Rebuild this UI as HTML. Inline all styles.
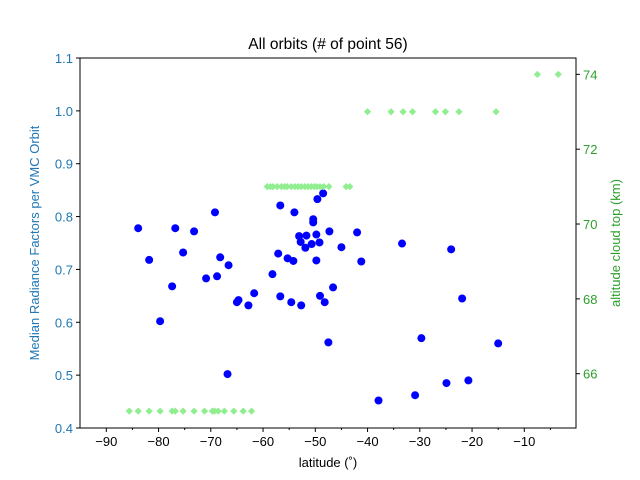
<!DOCTYPE html>
<html><head><meta charset="utf-8"><style>
body{margin:0;background:#fff;}
svg{display:block;font-family:"Liberation Sans","DejaVu Sans",sans-serif;}
</style></head><body>
<svg id="chart" width="640" height="480" viewBox="0 0 640 480" xmlns="http://www.w3.org/2000/svg">
<rect width="640" height="480" fill="#fff"/>
<text x="328" y="49" font-size="15.5" text-anchor="middle" fill="#000">All orbits (# of point 56)</text>
<g id="marks"></g>
<g id="axes"></g>
<text x="328" y="467" font-size="13" text-anchor="middle" fill="#000">latitude (˚)</text>
<text transform="translate(39,243) rotate(-90)" font-size="13" text-anchor="middle" fill="#1f77b4">Median Radiance Factors per VMC Orbit</text>
<text transform="translate(620,243) rotate(-90)" font-size="13" text-anchor="middle" fill="#2ca02c">altitude cloud top (km)</text>
</svg>
<script>
const blueLat = [-83.9,-81.8,-76.8,-73.2,-75.3,-69.2,-68.2,-66.6,-70.9,-68.8,-77.4,-79.7,-64.7,-65.0,-62.8,-61.7,-66.8,-48.5,-49.6,-56.7,-54.0,-50.4,-50.4,-47.3,-42.0,-53.1,-51.7,-49.8,-52.8,-50.7,-49.2,-51.9,-45.0,-41.2,-57.1,-55.3,-54.2,-49.8,-58.2,-46.6,-56.7,-49.1,-48.2,-54.6,-52.7,-47.5,-33.4,-24.0,-21.9,-29.7,-15.0,-20.7,-24.9,-30.9,-37.9];
const blueVal = [0.778,0.718,0.778,0.772,0.732,0.808,0.723,0.708,0.683,0.687,0.668,0.602,0.642,0.638,0.632,0.655,0.502,0.844,0.833,0.821,0.808,0.795,0.789,0.772,0.770,0.763,0.764,0.766,0.752,0.748,0.751,0.741,0.742,0.715,0.730,0.721,0.716,0.717,0.691,0.666,0.649,0.650,0.638,0.638,0.632,0.562,0.749,0.738,0.645,0.570,0.560,0.490,0.485,0.462,0.452];
const greenLat = [-85.6,-83.9,-81.8,-79.7,-77.4,-76.8,-75.3,-73.2,-71.2,-69.7,-69.3,-68.6,-67.4,-65.6,-63.8,-62.2,
 -59.2,-58.6,-58.1,-57.3,-56.5,-55.9,-55.4,-54.6,-53.9,-53.3,-52.7,-52.0,-51.4,-50.8,-50.2,-49.7,-49.1,-48.4,-47.4,-44.1,-43.4,
 -40.0,-35.5,-33.2,-31.4,-27.0,-25.1,-22.5,-15.4,-7.5,-3.5];
const greenAlt = [65,65,65,65,65,65,65,65,65,65,65,65,65,65,65,65,
 71,71,71,71,71,71,71,71,71,71,71,71,71,71,71,71,71,71,71,71,71,
 73,73,73,73,73,73,73,73,74,74];
const xTicks = [-90,-80,-70,-60,-50,-40,-30,-20,-10];
const xMinor = [-85,-75,-65,-55,-45,-35,-25,-15,-5];
const yLeftTicks = [0.4,0.5,0.6,0.7,0.8,0.9,1.0,1.1];
const yRightTicks = [66,68,70,72,74];

const L=80,R=576,T=58,B=428;
const X = v => 106.3 + (v + 90) * 5.225;
const YL = v => B - (v - 0.4) / 0.7 * (B - T);
const YR = v => 373.7 - (v - 66) * 37.42;
const NS="http://www.w3.org/2000/svg";
const marks=document.getElementById('marks'), axes=document.getElementById('axes');
function mk(tag, attrs, parent){const e=document.createElementNS(NS,tag);for(const k in attrs)e.setAttribute(k,attrs[k]);parent.appendChild(e);return e;}

blueLat.forEach((lat,i)=>{
  const c=mk('circle',{cx:X(lat),cy:YL(blueVal[i]),r:4,fill:'#0000ff'},marks);
  
  
});
greenLat.forEach((lat,i)=>{
  const x=X(lat),y=YR(greenAlt[i]),s=3.6;
  const p=mk('polygon',{points:`${x},${y-s} ${x+s},${y} ${x},${y+s} ${x-s},${y}`,fill:'#90ee90'},marks);
  
  
});

const frame=mk('rect',{x:L,y:T,width:R-L,height:B-T,fill:'none',stroke:'#000','stroke-width':1},axes);


xTicks.forEach(v=>{
  const x=X(v);
  const t=mk('line',{x1:x,y1:B,x2:x,y2:B+4,stroke:'#000'},axes);
  
  
  const lb=mk('text',{x:x,y:B+18,'font-size':13,'text-anchor':'middle',fill:'#000'},axes);
  lb.textContent='\u2212'+Math.abs(v);
  
  
});
xMinor.forEach(v=>{
  const x=X(v);
  const t=mk('line',{x1:x,y1:B,x2:x,y2:B+2,stroke:'#000'},axes);
  
  
});
yLeftTicks.forEach(v=>{
  const y=YL(v);
  const t=mk('line',{x1:L-4,y1:y,x2:L,y2:y,stroke:'#000'},axes);
  
  
  const lb=mk('text',{x:L-7,y:y+5,'font-size':13,'text-anchor':'end',fill:'#1f77b4'},axes);
  lb.textContent=v.toFixed(1);
  
  
});
yRightTicks.forEach(v=>{
  const y=YR(v);
  const t=mk('line',{x1:R,y1:y,x2:R+4,y2:y,stroke:'#000'},axes);
  
  
  const lb=mk('text',{x:R+7,y:y+5,'font-size':13,'text-anchor':'start',fill:'#2ca02c'},axes);
  lb.textContent=String(v);
  
  
});
</script>
</body></html>
